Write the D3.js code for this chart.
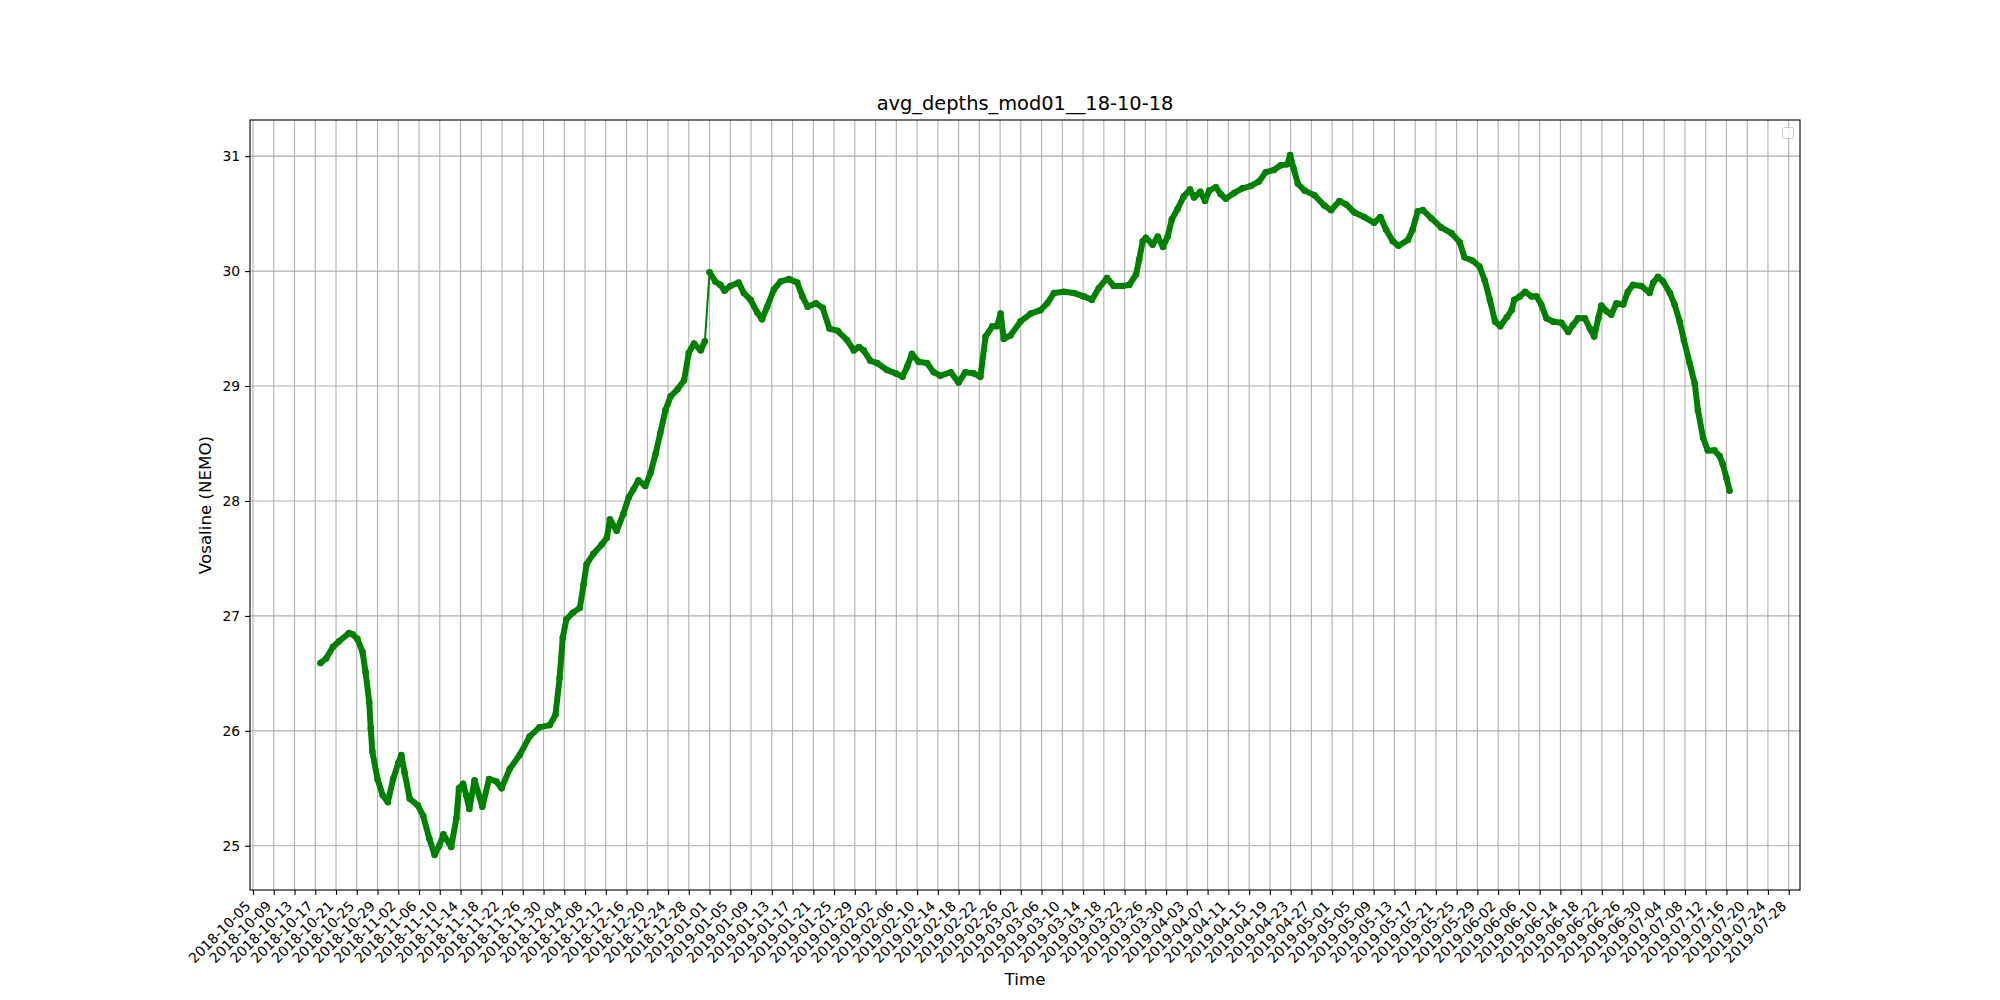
<!DOCTYPE html>
<html lang="en">
<head>
<meta charset="UTF-8">
<title>avg_depths_mod01__18-10-18</title>
<script src="https://d3js.org/d3.v7.min.js"></script>
<style>
  body { margin: 0; background: #fff; }
  svg { display: block; }
  text { font-family: "DejaVu Sans", sans-serif; fill: #000; }
</style>
</head>
<body>
<div id="chart"></div>
<script>
// series start (first sample) and days elapsed since then
const startDate = "2018-10-18";
const dayOffset = [
  0.0, 1.1, 2.4, 3.6, 5.5, 6.2, 7.1, 8.1, 8.7, 9.4, 9.7, 10.0, 11.0, 12.0, 13.0,
  14.0, 15.0, 15.6, 16.2, 17.2, 18.8, 19.8, 21.0, 22.0, 22.9, 23.7, 25.2, 26.2, 26.7,
  27.5, 28.1, 28.7, 29.7, 31.2, 32.5, 33.9, 34.9, 36.5, 38.4, 40.3, 42.2,
  44.2, 45.3, 46.1, 46.7, 47.4, 48.7, 50.0, 50.7, 51.3, 52.6, 54.2, 55.2, 55.8, 57.1,
  58.4, 59.4, 60.3, 61.3, 62.6, 63.6, 64.6, 65.5, 66.5, 67.5, 68.8, 70.1, 71.0, 72.0,
  73.3, 74.1,
  75.0, 76.1, 77.1, 77.9, 79.0, 80.6, 81.6, 82.9, 84.2, 85.1, 86.1, 87.4, 88.7, 90.3,
  91.9, 92.9, 93.9, 95.5, 96.8, 98.1, 99.7, 101.5, 102.8, 103.8, 104.7,
  106.0, 107.3, 109.2, 110.9, 112.2, 113.1, 114.0, 115.3, 116.9, 118.2, 119.5, 121.5,
  123.0, 124.3, 125.9, 127.2, 128.2, 129.5, 130.4, 131.1, 131.7, 133.0,
  134.9, 136.9, 138.8, 140.1, 141.4, 143.3, 145.2, 147.1, 148.7, 150.0, 151.6, 152.9,
  154.6, 155.9, 157.2, 157.8, 158.5, 159.1, 160.4, 161.4, 162.4, 163.3, 164.1,
  165.2, 166.4, 167.6, 168.4, 169.6, 170.5, 171.3, 172.6, 173.5, 174.5, 176.1, 177.7,
  179.3, 180.9, 182.2, 183.8, 185.1, 186.4, 186.9, 187.6, 188.4, 189.7, 191.6, 193.5, 194.8,
  196.4, 197.7, 199.3, 201.2, 203.1, 204.3, 205.4, 206.7, 207.8, 209.6, 210.5, 211.5,
  212.5, 214.1, 216.0, 218.0, 219.6, 220.5, 222.1, 223.4, 224.4, 225.4,
  226.4, 227.4, 228.7, 229.6, 230.1, 231.2, 232.2, 233.4, 234.4, 235.3, 236.3, 237.6,
  239.2, 240.5, 241.4, 242.4, 243.7, 244.7, 245.5, 246.3, 246.9, 247.9, 248.8, 249.8,
  251.1, 252.0, 253.0, 254.6,
  256.2, 256.9, 257.8, 258.8, 260.1, 261.0, 262.0, 262.8, 263.9, 264.9, 265.5, 266.5,
  267.4, 268.7, 269.7, 270.3, 271.0, 271.6
];
const vosaline = [
  26.59, 26.63, 26.73, 26.78, 26.85, 26.84, 26.80, 26.69, 26.51, 26.25, 26.02, 25.82, 25.58, 25.44, 25.38,
  25.58, 25.72, 25.79, 25.64, 25.41, 25.35, 25.26, 25.06, 24.92, 25.00, 25.10, 24.99, 25.24, 25.50,
  25.54, 25.44, 25.32, 25.57, 25.34, 25.58, 25.56, 25.50, 25.67, 25.79, 25.95, 26.03,
  26.05, 26.14, 26.46, 26.81, 26.97, 27.03, 27.07, 27.27, 27.45, 27.54, 27.62, 27.68, 27.84, 27.74,
  27.89, 28.03, 28.10, 28.18, 28.13, 28.24, 28.41, 28.59, 28.79, 28.91, 28.97, 29.05, 29.29, 29.37,
  29.31, 29.39,
  29.99, 29.91, 29.88, 29.83, 29.87, 29.90, 29.81, 29.75, 29.64, 29.58, 29.69, 29.84, 29.91, 29.93,
  29.90, 29.78, 29.69, 29.72, 29.68, 29.50, 29.48, 29.40, 29.31, 29.34, 29.31,
  29.22, 29.20, 29.14, 29.11, 29.08, 29.17, 29.28, 29.21, 29.20, 29.12, 29.09, 29.12,
  29.03, 29.12, 29.11, 29.08, 29.43, 29.52, 29.52, 29.63, 29.41, 29.44,
  29.56, 29.63, 29.66, 29.72, 29.81, 29.82, 29.81, 29.78, 29.75, 29.85, 29.94, 29.87,
  29.87, 29.88, 29.97, 30.10, 30.26, 30.29, 30.23, 30.30, 30.21, 30.30, 30.45,
  30.54, 30.65, 30.71, 30.64, 30.69, 30.61, 30.70, 30.73, 30.67, 30.63, 30.68, 30.72,
  30.74, 30.78, 30.86, 30.88, 30.92, 30.93, 31.01, 30.89, 30.76, 30.70, 30.66, 30.57, 30.53,
  30.61, 30.58, 30.51, 30.47, 30.42, 30.47, 30.36, 30.26, 30.22, 30.27, 30.36, 30.52,
  30.53, 30.46, 30.38, 30.33, 30.25, 30.12, 30.09, 30.04, 29.92, 29.75,
  29.56, 29.52, 29.60, 29.66, 29.75, 29.78, 29.82, 29.78, 29.78, 29.71, 29.59, 29.56,
  29.55, 29.47, 29.53, 29.59, 29.59, 29.50, 29.43, 29.59, 29.70, 29.65, 29.62, 29.72,
  29.71, 29.82, 29.88, 29.87,
  29.81, 29.90, 29.95, 29.91, 29.81, 29.71, 29.56, 29.40, 29.20, 29.02, 28.79, 28.55,
  28.44, 28.44, 28.39, 28.32, 28.20, 28.09
];
// missing stretch of samples (only the connecting line is drawn there)
const dataGaps = [[74.1, 75.0]];

const yTicks = [25, 26, 27, 28, 29, 30, 31];
const xTickFirst = "2018-10-05";
const xTickLast = "2019-07-28";
const xTickStepDays = 4;

const W = 2000, H = 1000;
const margin = {left: 250, right: 200, top: 120, bottom: 110};
const iw = W - margin.left - margin.right;
const ih = H - margin.top - margin.bottom;
const green = "#008000";
const grid = "#b0b0b0";

const parseDay = d3.utcParse("%Y-%m-%d");
const t0 = parseDay(startDate);
const data = dayOffset.map((o, i) => ({ t: d3.utcMillisecond.offset(t0, o * 864e5), v: vosaline[i], o: o }));

const svg = d3.select("#chart").append("svg").attr("width", W).attr("height", H);
const g = svg.append("g").attr("transform", `translate(${margin.left},${margin.top})`);

// 5% padding like matplotlib's autoscale margins
const tExt = d3.extent(data, d => +d.t);
const tPad = (tExt[1] - tExt[0]) * 0.05;
const x = d3.scaleUtc().domain([new Date(tExt[0] - tPad), new Date(tExt[1] + tPad)]).range([0, iw]);
const vExt = d3.extent(vosaline);
const vPad = (vExt[1] - vExt[0]) * 0.05;
const y = d3.scaleLinear().domain([vExt[0] - vPad, vExt[1] + vPad]).range([ih, 0]);

const xTicks = d3.utcDay.range(parseDay(xTickFirst), d3.utcDay.offset(parseDay(xTickLast), 1), xTickStepDays);
const fmt = d3.utcFormat("%Y-%m-%d");

// grid
g.append("g").selectAll("line").data(xTicks).join("line")
  .attr("x1", d => x(d)).attr("x2", d => x(d)).attr("y1", 0).attr("y2", ih)
  .attr("stroke", grid).attr("stroke-width", 1.1);
g.append("g").selectAll("line").data(yTicks).join("line")
  .attr("x1", 0).attr("x2", iw).attr("y1", d => y(d)).attr("y2", d => y(d))
  .attr("stroke", grid).attr("stroke-width", 1.1);

// axes
const xAxis = g.append("g").attr("transform", `translate(0,${ih})`)
  .call(d3.axisBottom(x).tickValues(xTicks).tickSize(4.9).tickFormat(fmt));
xAxis.select(".domain").remove();
xAxis.selectAll("line").attr("stroke", "#000").attr("stroke-width", 1.1);
xAxis.selectAll("text")
  .attr("font-size", 13.9).attr("font-family", "DejaVu Sans, sans-serif")
  .attr("text-anchor", "end").attr("dy", null).attr("y", null)
  .attr("transform", "translate(-2,17) rotate(-45)");

const yAxis = g.append("g")
  .call(d3.axisLeft(y).tickValues(yTicks).tickSize(4.9).tickPadding(4.9).tickFormat(d3.format("d")));
yAxis.select(".domain").remove();
yAxis.selectAll("line").attr("stroke", "#000").attr("stroke-width", 1.1);
yAxis.selectAll("text").attr("font-size", 13.9).attr("font-family", "DejaVu Sans, sans-serif");

// series: thin connecting line, then the dense marker trail
const line = d3.line().x(d => x(d.t)).y(d => y(d.v));
g.append("path").datum(data).attr("d", line)
  .attr("fill", "none").attr("stroke", green).attr("stroke-width", 2);

const inGap = (a, b) => dataGaps.some(([s, e]) => a >= s && b <= e);
const runs = [[]];
data.forEach((d, i) => {
  if (i > 0 && inGap(data[i - 1].o, d.o)) runs.push([]);
  runs[runs.length - 1].push(d);
});
g.append("g").selectAll("path").data(runs).join("path")
  .attr("d", line).attr("fill", "none").attr("stroke", green)
  .attr("stroke-width", 6).attr("stroke-linejoin", "round").attr("stroke-linecap", "round");
g.append("g").selectAll("circle").data(data).join("circle")
  .attr("cx", d => x(d.t)).attr("cy", d => y(d.v)).attr("r", 3.3).attr("fill", green);

// frame
g.append("rect").attr("width", iw).attr("height", ih)
  .attr("fill", "none").attr("stroke", "#000").attr("stroke-width", 1.1);

// empty legend box
g.append("rect").attr("x", iw - 17.5).attr("y", 7.5).attr("width", 11).attr("height", 11)
  .attr("rx", 2).attr("fill", "#fff").attr("fill-opacity", 0.8)
  .attr("stroke", "#cccccc").attr("stroke-width", 1);

// labels
svg.append("text").attr("x", margin.left + iw / 2).attr("y", 110)
  .attr("text-anchor", "middle").attr("font-size", 19.4).text("avg_depths_mod01__18-10-18");
svg.append("text").attr("x", margin.left + iw / 2).attr("y", 985)
  .attr("text-anchor", "middle").attr("font-size", 16.7).text("Time");
svg.append("text").attr("transform", `translate(211,${margin.top + ih / 2}) rotate(-90)`)
  .attr("text-anchor", "middle").attr("font-size", 16.7).text("Vosaline (NEMO)");
</script>
</body>
</html>
